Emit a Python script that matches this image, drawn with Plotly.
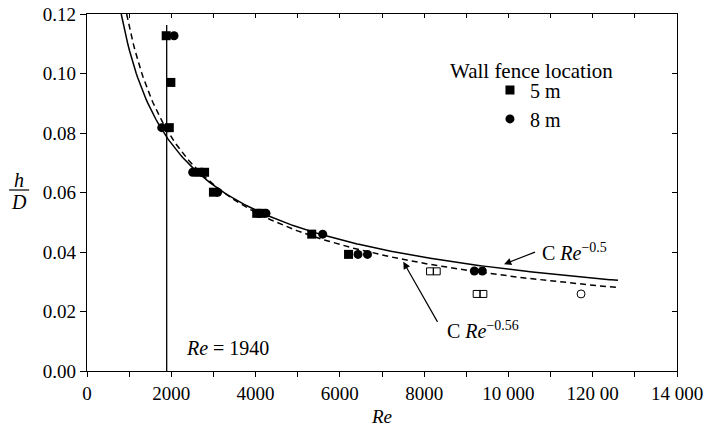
import numpy as np
import plotly.graph_objects as go

# ---- data ----
# Wall fence location 5 m (filled squares)
re_5m = [1879, 1990, 1953, 2650, 2790, 3000, 4027, 4130, 5332, 6206]
hd_5m = [0.1127, 0.0970, 0.0818, 0.0668, 0.0668, 0.0601, 0.0530, 0.0530, 0.0460, 0.0392]
# Wall fence location 8 m (filled circles)
re_8m = [2065, 1773, 2508, 3100, 4248, 5593, 6431, 6656, 9191, 9381]
hd_8m = [0.1127, 0.0818, 0.0668, 0.0601, 0.0530, 0.0460, 0.0392, 0.0392, 0.0336, 0.0336]
# open symbols
re_open_sq = [8140, 8298, 9247, 9405]
hd_open_sq = [0.0335, 0.0335, 0.0259, 0.0259]
re_open_ci = [11723]
hd_open_ci = [0.0259]

# critical Reynolds number line
re_crit_x = [1891, 1891]
re_crit_y = [0.0, 0.1163]
re_crit_label = "<i>Re</i> = 1940"

# fitted curves  h/D = C Re^-n
c_05, n_05 = 3.42, 0.5
c_056, n_056 = 5.55, 0.56
re_end = 12600

x_tickvals = [0, 2000, 4000, 6000, 8000, 10000, 12000, 14000]
x_ticktext = ["0", "2000", "4000", "6000", "8000", "10 000", "120 00", "14 000"]
x_minor_vals = [1000, 3000, 5000, 7000, 9000, 11000, 13000]
x_all_vals = list(range(0, 14001, 1000))
y_tickvals = [0.0, 0.02, 0.04, 0.06, 0.08, 0.10, 0.12]

FONT = "Liberation Serif"

re_s = np.linspace((c_05 / 0.12) ** (1 / n_05), re_end, 300)
re_d = np.linspace((c_056 / 0.12) ** (1 / n_056), re_end, 300)

fig = go.Figure()
fig.add_trace(go.Scatter(x=re_s, y=c_05 * re_s ** (-n_05), mode="lines",
                         line=dict(color="black", width=1.5), showlegend=False, hoverinfo="skip"))
fig.add_trace(go.Scatter(x=re_d, y=c_056 * re_d ** (-n_056), mode="lines",
                         line=dict(color="black", width=1.5, dash="6px,4px"), showlegend=False, hoverinfo="skip"))
fig.add_trace(go.Scatter(x=re_crit_x, y=re_crit_y, mode="lines",
                         line=dict(color="black", width=1.3), showlegend=False, hoverinfo="skip"))
fig.add_trace(go.Scatter(x=re_open_sq, y=hd_open_sq, mode="markers", showlegend=False,
                         marker=dict(symbol="square-open", size=7, color="black", line=dict(width=1))))
fig.add_trace(go.Scatter(x=re_open_ci, y=hd_open_ci, mode="markers", showlegend=False,
                         marker=dict(symbol="circle-open", size=8, color="black", line=dict(width=1))))
fig.add_trace(go.Scatter(x=re_5m, y=hd_5m, mode="markers", name="5 m",
                         marker=dict(symbol="square", size=9, color="black")))
fig.add_trace(go.Scatter(x=re_8m, y=hd_8m, mode="markers", name="8 m",
                         marker=dict(symbol="circle", size=9, color="black")))
# dummy trace for mirrored axes
fig.add_trace(go.Scatter(x=[None], y=[None], xaxis="x2", yaxis="y2", showlegend=False, hoverinfo="skip"))

axis_common = dict(showline=True, linecolor="black", linewidth=1.3, showgrid=False,
                   zeroline=False, tickcolor="black", tickwidth=1.2, automargin=False)

fig.update_layout(
    width=709, height=430,
    margin=dict(l=87, r=32, t=14, b=59),
    paper_bgcolor="white", plot_bgcolor="white",
    font=dict(family=FONT, size=19, color="black"),
    xaxis=dict(range=[0, 14000], tickmode="array", tickvals=x_tickvals, ticktext=x_ticktext,
               ticks="outside", ticklen=5,
               minor=dict(tickmode="array", tickvals=x_minor_vals, ticks="outside", ticklen=5,
                          tickcolor="black", tickwidth=1.2, showgrid=False),
               title=dict(text="<i>Re</i>", font=dict(size=19), standoff=6), **axis_common),
    yaxis=dict(range=[0, 0.12], tickvals=y_tickvals, tickformat=".2f",
               ticks="outside", ticklen=6, **axis_common),
    xaxis2=dict(range=[0, 14000], tickvals=x_all_vals, overlaying="x", side="top", anchor="y",
                ticks="inside", ticklen=4, showticklabels=False, **axis_common),
    yaxis2=dict(range=[0, 0.12], tickvals=y_tickvals, overlaying="y", side="right", anchor="x",
                ticks="inside", ticklen=5, showticklabels=False, **axis_common),
    legend=dict(font=dict(size=20), x=0.683, xanchor="left", y=0.842, yanchor="top",
                bgcolor="rgba(0,0,0,0)", itemwidth=30, tracegroupgap=0),
)

# legend title
fig.add_annotation(text="Wall fence location", xref="paper", yref="paper", x=0.754, y=(371 - 70.7) / 357,
                   xanchor="center", yanchor="middle", showarrow=False, font=dict(size=21))

# y-axis label as fraction h / D
fig.add_annotation(text="<i>h</i>", xref="paper", yref="paper", x=-0.115, y=0.535,
                   showarrow=False, font=dict(size=20), xanchor="center", yanchor="middle")
fig.add_annotation(text="<i>D</i>", xref="paper", yref="paper", x=-0.115, y=0.474,
                   showarrow=False, font=dict(size=20), xanchor="center", yanchor="middle")
fig.add_shape(type="line", xref="paper", yref="paper", x0=-0.132, x1=-0.098, y0=0.507, y1=0.507,
              line=dict(color="black", width=1.2))

# critical Re label
fig.add_annotation(text=re_crit_label, x=2302, y=0.0077, xanchor="left", yanchor="middle",
                   showarrow=False, font=dict(size=20))

# curve labels with arrows
fig.add_annotation(text="C <i>Re</i><sup>\u22120.5</sup>", x=10750, y=0.0400, xanchor="left",
                   yanchor="middle", showarrow=False, font=dict(size=20))
fig.add_annotation(text=" ", x=9896, y=0.0359, ax=10655, ay=0.0401, axref="x", ayref="y",
                   font=dict(size=2), borderpad=0,
                   showarrow=True, arrowhead=2, arrowsize=1.2, arrowwidth=1.2, arrowcolor="black")
fig.add_annotation(text="C <i>Re</i><sup>\u22120.56</sup>", x=8495, y=0.0138, xanchor="left",
                   yanchor="middle", showarrow=False, font=dict(size=20))
fig.add_annotation(text=" ", x=7506, y=0.0367, ax=8337, ay=0.0160, axref="x", ayref="y",
                   font=dict(size=2), borderpad=0,
                   showarrow=True, arrowhead=2, arrowsize=1.2, arrowwidth=1.2, arrowcolor="black")

fig.write_html("out.html")
